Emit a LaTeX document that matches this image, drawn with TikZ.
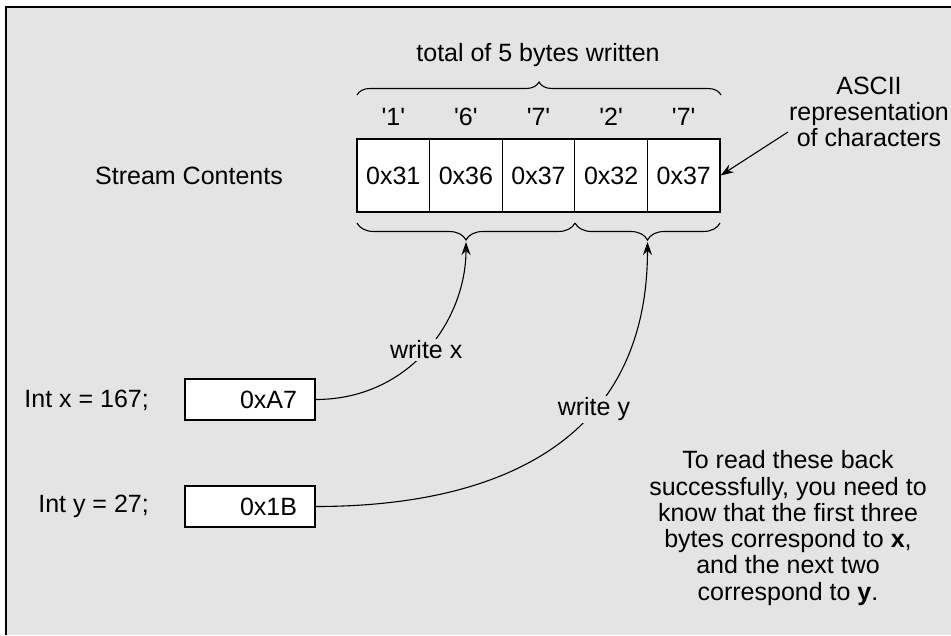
\documentclass[tikz,border=0pt]{standalone}
\usepackage{fontspec}
\setmainfont{Liberation Sans}
\usetikzlibrary{arrows.meta,decorations.pathreplacing}
\definecolor{bg}{RGB}{228,228,228}
\newcommand{\sq}{\textquotesingle}
\begin{document}
\begin{tikzpicture}[x=1pt,y=-1pt,
  txt/.style={font=\fontsize{25}{26.3}\selectfont, inner sep=1pt},
  cell/.style={txt, draw=black, line width=1.2pt, fill=white, minimum width=72.6pt, minimum height=73pt, inner sep=0pt},
  valbox/.style={txt, draw=black, line width=1.2pt, fill=white, minimum height=41pt, inner xsep=18pt, text width=94pt, align=right},
  lbl/.style={txt, fill=bg, inner sep=2pt},
  conn/.style={line width=1.1pt, -{Stealth[length=13pt,width=9pt]}},
  brc/.style={line width=1.1pt, decorate, decoration={brace, amplitude=#1}}
]
\useasboundingbox (0,0) rectangle (951,635);
\fill[bg] (6,7) rectangle (951,635);
\draw[line width=2pt] (951,7) -- (6,7) -- (6,635);

% cells
\node[cell] (c1) at (393.3,175.5) {0x31};
\node[cell] (c2) at (465.9,175.5) {0x36};
\node[cell] (c3) at (538.5,175.5) {0x37};
\node[cell] (c4) at (611.1,175.5) {0x32};
\node[cell] (c5) at (683.7,175.5) {0x37};

\node[txt] (ch1) at (393.3,117) {\sq1\sq};
\node[txt] (ch2) at (465.9,117) {\sq6\sq};
\node[txt] (ch3) at (538.5,117) {\sq7\sq};
\node[txt] (ch4) at (611.1,117) {\sq2\sq};
\node[txt] (ch5) at (683.7,117) {\sq7\sq};

\node[txt] (total) at (538,55) {total of 5 bytes written};
\draw[brc=13pt] (357,95) -- (721,95);

\node[txt] (stream) at (189,176) {Stream Contents};

\node[txt, align=center] (ascii) at (869,112) {ASCII\\representation\\of characters};
\coordinate (atail) at (788,132);
\draw[conn] (atail) -- (c5.east);

% bottom braces
\draw[brc=17pt] (575,223) -- (357,223);
\draw[brc=17pt] (720,223) -- (575,223);
\coordinate (tipx) at (466,242);
\coordinate (tipy) at (647.5,242);

% int boxes
\node[txt, anchor=east] (intx) at (150,400) {Int x = 167;};
\node[txt, anchor=east] (inty) at (150,506) {Int y = 27;};
\node[valbox] (bx) at (250,399.5) {0xA7};
\node[valbox] (by) at (250,506.5) {0x1B};

\draw[conn] (bx.east) .. controls (410,399.5) and (466,320) .. (tipx)
  node[lbl, pos=0.5] (wx) {write x};
\draw[conn] (by.east) .. controls (500,506.5) and (647.5,440) .. (tipy)
  node[lbl, pos=0.635] (wy) {write y};

\node[txt, align=center] (note) at (788,528) {To read these back\\successfully, you need to\\know that the first three\\bytes correspond to \textbf{x},\\and the next two\\correspond to \textbf{y}.};
\end{tikzpicture}
\end{document}
